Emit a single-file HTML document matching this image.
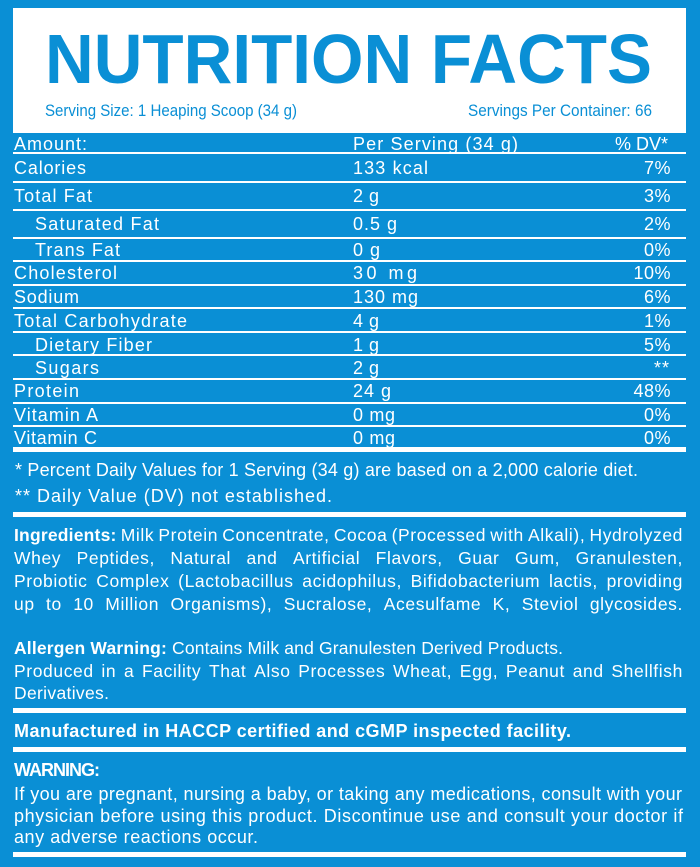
<!DOCTYPE html>
<html>
<head>
<meta charset="utf-8">
<style>
html,body{margin:0;padding:0;}
body{width:700px;height:867px;position:relative;overflow:hidden;background:#0a8fd5;font-family:"Liberation Sans",Arial,sans-serif;}
svg{position:absolute;left:0;top:0;}
.j{position:absolute;left:14px;width:669px;height:17px;line-height:17px;font-size:17.5px;color:#fff;display:flex;justify-content:space-between;white-space:nowrap;letter-spacing:0.6px;}
.j b{font-weight:bold;letter-spacing:0.2px;}
</style>
</head>
<body>
<svg width="700" height="867" viewBox="0 0 700 867" xmlns="http://www.w3.org/2000/svg" font-family="Liberation Sans, Arial, sans-serif">
  <rect width="700" height="867" fill="#0a8fd5"/>
  <rect x="13" y="8" width="673" height="125" fill="#ffffff"/>
  <text x="45" y="83" font-size="70" font-weight="bold" fill="#0a8fd5" textLength="607" lengthAdjust="spacingAndGlyphs">NUTRITION FACTS</text>
  <text x="45" y="116" font-size="16.5" fill="#0a8fd5" textLength="252" lengthAdjust="spacingAndGlyphs">Serving Size: 1 Heaping Scoop (34 g)</text>
  <text x="468" y="116" font-size="16.5" fill="#0a8fd5" textLength="184" lengthAdjust="spacingAndGlyphs">Servings Per Container: 66</text>

  <g fill="#ffffff">
    <rect x="13" y="152" width="673" height="2"/>
    <rect x="13" y="181" width="673" height="2"/>
    <rect x="13" y="209" width="673" height="2"/>
    <rect x="13" y="237" width="673" height="2"/>
    <rect x="13" y="260" width="673" height="2"/>
    <rect x="13" y="284" width="673" height="2"/>
    <rect x="13" y="307" width="673" height="2"/>
    <rect x="13" y="331" width="673" height="2"/>
    <rect x="13" y="354" width="673" height="2"/>
    <rect x="13" y="378" width="673" height="2"/>
    <rect x="13" y="402" width="673" height="2"/>
    <rect x="13" y="425" width="673" height="2"/>
    <rect x="13" y="447" width="673" height="5"/>
    <rect x="13" y="512" width="673" height="5"/>
    <rect x="13" y="708" width="673" height="5"/>
    <rect x="13" y="747" width="673" height="5"/>
    <rect x="13" y="852" width="673" height="5"/>
  </g>

  <g fill="#ffffff" font-size="18">
    <text x="14" y="150" textLength="73" lengthAdjust="spacing">Amount:</text>
    <text x="353" y="150" textLength="165" lengthAdjust="spacing">Per Serving (34 g)</text>
    <text x="668" y="150" text-anchor="end" textLength="53" lengthAdjust="spacing">% DV*</text>

    <text x="14" y="174" textLength="72" lengthAdjust="spacing">Calories</text>
    <text x="353" y="174" textLength="75" lengthAdjust="spacing">133 kcal</text>
    <text x="671" y="174" text-anchor="end" letter-spacing="0.5">7%</text>

    <text x="14" y="202" textLength="78" lengthAdjust="spacing">Total Fat</text>
    <text x="353" y="202" textLength="26" lengthAdjust="spacing">2 g</text>
    <text x="671" y="202" text-anchor="end" letter-spacing="0.5">3%</text>

    <text x="35" y="230" textLength="124" lengthAdjust="spacing">Saturated Fat</text>
    <text x="353" y="230" textLength="44" lengthAdjust="spacing">0.5 g</text>
    <text x="671" y="230" text-anchor="end" letter-spacing="0.5">2%</text>

    <text x="35" y="256" textLength="85" lengthAdjust="spacing">Trans Fat</text>
    <text x="353" y="256" textLength="27" lengthAdjust="spacing">0 g</text>
    <text x="671" y="256" text-anchor="end" letter-spacing="0.5">0%</text>

    <text x="14" y="279" textLength="103" lengthAdjust="spacing">Cholesterol</text>
    <text x="353" y="279" textLength="64" lengthAdjust="spacing">30 mg</text>
    <text x="671" y="279" text-anchor="end" letter-spacing="0.5">10%</text>

    <text x="14" y="303" textLength="65" lengthAdjust="spacing">Sodium</text>
    <text x="353" y="303" textLength="65" lengthAdjust="spacing">130 mg</text>
    <text x="671" y="303" text-anchor="end" letter-spacing="0.5">6%</text>

    <text x="14" y="327" textLength="173" lengthAdjust="spacing">Total Carbohydrate</text>
    <text x="353" y="327" textLength="26" lengthAdjust="spacing">4 g</text>
    <text x="671" y="327" text-anchor="end" letter-spacing="0.5">1%</text>

    <text x="35" y="351" textLength="117" lengthAdjust="spacing">Dietary Fiber</text>
    <text x="353" y="351" textLength="26" lengthAdjust="spacing">1 g</text>
    <text x="671" y="351" text-anchor="end" letter-spacing="0.5">5%</text>

    <text x="35" y="374" textLength="64" lengthAdjust="spacing">Sugars</text>
    <text x="353" y="374" textLength="26" lengthAdjust="spacing">2 g</text>
    <text x="670" y="374" text-anchor="end" letter-spacing="1">**</text>

    <text x="14" y="397" textLength="65" lengthAdjust="spacing">Protein</text>
    <text x="353" y="397" textLength="38" lengthAdjust="spacing">24 g</text>
    <text x="671" y="397" text-anchor="end" letter-spacing="0.5">48%</text>

    <text x="14" y="421" textLength="84" lengthAdjust="spacing">Vitamin A</text>
    <text x="353" y="421" textLength="42" lengthAdjust="spacing">0 mg</text>
    <text x="671" y="421" text-anchor="end" letter-spacing="0.5">0%</text>

    <text x="14" y="444" textLength="83" lengthAdjust="spacing">Vitamin C</text>
    <text x="353" y="444" textLength="42" lengthAdjust="spacing">0 mg</text>
    <text x="671" y="444" text-anchor="end" letter-spacing="0.5">0%</text>

    <text x="15" y="476" textLength="623" lengthAdjust="spacing">* Percent Daily Values for 1 Serving (34 g) are based on a 2,000 calorie diet.</text>
    <text x="15" y="502" textLength="317" lengthAdjust="spacing">** Daily Value (DV) not established.</text>

    <text x="14" y="654" font-size="17.5" textLength="549" lengthAdjust="spacing"><tspan font-weight="bold">Allergen Warning:</tspan> Contains Milk and Granulesten Derived Products.</text>
    <text x="14" y="699" font-size="17.5" textLength="95" lengthAdjust="spacing">Derivatives.</text>

    <text x="14" y="737" font-weight="bold" textLength="557" lengthAdjust="spacing">Manufactured in HACCP certified and cGMP inspected facility.</text>
    <text x="14" y="776" font-weight="bold" textLength="86" lengthAdjust="spacing">WARNING:</text>
    <text x="14" y="800" textLength="668" lengthAdjust="spacing">If you are pregnant, nursing a baby, or taking any medications, consult with your</text>
    <text x="14" y="822" textLength="669" lengthAdjust="spacing">physician before using this product. Discontinue use and consult your doctor if</text>
    <text x="14" y="843" textLength="244" lengthAdjust="spacing">any adverse reactions occur.</text>
  </g>
</svg>

<div class="j" style="top:527px;"><b>Ingredients:</b><span>Milk</span><span>Protein</span><span>Concentrate,</span><span>Cocoa</span><span>(Processed</span><span>with</span><span>Alkali),</span><span>Hydrolyzed</span></div>
<div class="j" style="top:550px;"><span>Whey</span><span>Peptides,</span><span>Natural</span><span>and</span><span>Artificial</span><span>Flavors,</span><span>Guar</span><span>Gum,</span><span>Granulesten,</span></div>
<div class="j" style="top:573px;"><span>Probiotic</span><span>Complex</span><span>(Lactobacillus</span><span>acidophilus,</span><span>Bifidobacterium</span><span>lactis,</span><span>providing</span></div>
<div class="j" style="top:596px;"><span>up</span><span>to</span><span>10</span><span>Million</span><span>Organisms),</span><span>Sucralose,</span><span>Acesulfame</span><span>K,</span><span>Steviol</span><span>glycosides.</span></div>
<div class="j" style="top:663px;"><span>Produced</span><span>in</span><span>a</span><span>Facility</span><span>That</span><span>Also</span><span>Processes</span><span>Wheat,</span><span>Egg,</span><span>Peanut</span><span>and</span><span>Shellfish</span></div>
</body>
</html>
